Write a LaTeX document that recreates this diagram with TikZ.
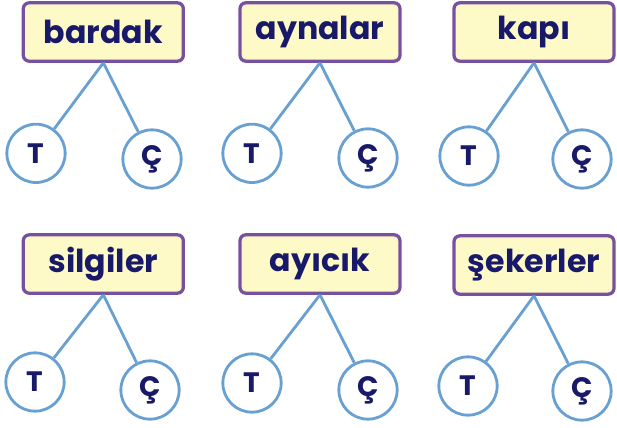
\documentclass[tikz,border=0pt]{standalone}
\usepackage{fontspec}
\setmainfont{Poppins}
\usepackage{tikz}
\definecolor{ink}{RGB}{25,25,105}
\definecolor{boxline}{RGB}{120,80,160}
\definecolor{boxfill}{RGB}{253,250,200}
\definecolor{treeline}{RGB}{105,160,210}
\tikzset{word/.style={draw=boxline, fill=boxfill, line width=2.8pt, rounded corners=5pt,
            minimum width=4.8cm, minimum height=1.75cm, text=ink,
            font=\fontsize{27}{30}\selectfont\bfseries},
         leaf/.style={circle, draw=treeline, line width=2.4pt, minimum size=1.75cm,
            inner sep=0mm, text=ink, font=\fontsize{24}{26}\selectfont\bfseries},
         branch/.style={draw=treeline, line width=2.4pt}}

\begin{document}
\begin{tikzpicture}
    \useasboundingbox (0cm, 0cm) rectangle (18.51cm, -12.81cm);

    \node (bardak) at (3.1cm, -0.96cm) [word] {bardak};
    \node (bardakT) at (1.08cm, -4.6cm) [leaf] {T};
    \node (bardakC) at (4.56cm, -4.77cm) [leaf] {Ç};
    \draw (bardak.south) edge [branch] (bardakT);
    \draw (bardak.south) edge [branch] (bardakC);

    \node (aynalar) at (9.6cm, -0.96cm) [word] {aynalar};
    \node (aynalarT) at (7.56cm, -4.6cm) [leaf] {T};
    \node (aynalarC) at (11.04cm, -4.74cm) [leaf] {Ç};
    \draw (aynalar.south) edge [branch] (aynalarT);
    \draw (aynalar.south) edge [branch] (aynalarC);

    \node (kapi) at (16.02cm, -0.96cm) [word] {kapı};
    \node (kapiT) at (14.07cm, -4.68cm) [leaf] {T};
    \node (kapiC) at (17.46cm, -4.77cm) [leaf] {Ç};
    \draw (kapi.south) edge [branch] (kapiT);
    \draw (kapi.south) edge [branch] (kapiC);

    \node (silgiler) at (3.1cm, -7.92cm) [word] {silgiler};
    \node (silgilerT) at (1.05cm, -11.46cm) [leaf] {T};
    \node (silgilerC) at (4.5cm, -11.7cm) [leaf] {Ç};
    \draw (silgiler.south) edge [branch] (silgilerT);
    \draw (silgiler.south) edge [branch] (silgilerC);

    \node (ayicik) at (9.6cm, -7.92cm) [word] {ayıcık};
    \node (ayicikT) at (7.56cm, -11.49cm) [leaf] {T};
    \node (ayicikC) at (11.04cm, -11.7cm) [leaf] {Ç};
    \draw (ayicik.south) edge [branch] (ayicikT);
    \draw (ayicik.south) edge [branch] (ayicikC);

    \node (sekerler) at (16.02cm, -7.95cm) [word] {şekerler};
    \node (sekerlerT) at (14.04cm, -11.58cm) [leaf] {T};
    \node (sekerlerC) at (17.46cm, -11.73cm) [leaf] {Ç};
    \draw (sekerler.south) edge [branch] (sekerlerT);
    \draw (sekerler.south) edge [branch] (sekerlerC);
\end{tikzpicture}
\end{document}
